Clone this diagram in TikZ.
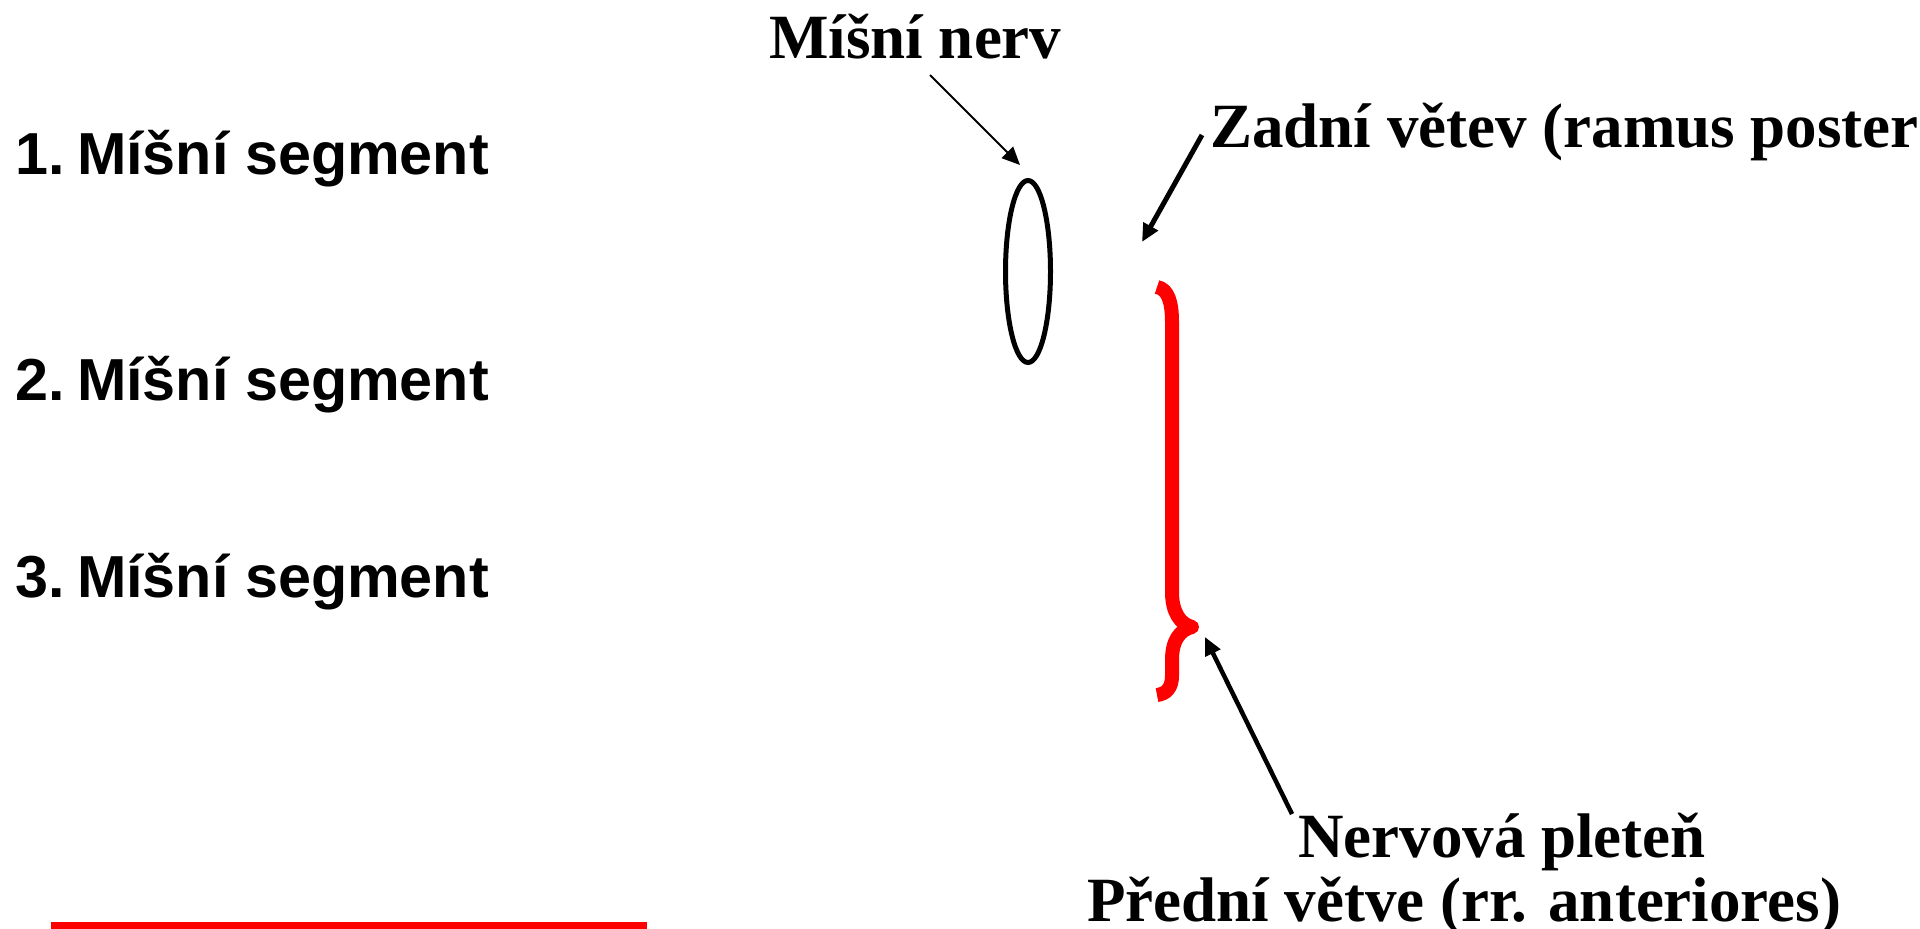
\documentclass[tikz,border=0pt]{standalone}
\usepackage{fontspec}
\setmainfont{Liberation Serif}
\newfontfamily\labelsans{Liberation Sans}
\usetikzlibrary{arrows.meta,shapes.geometric}
\begin{document}
\begin{tikzpicture}[x=1pt,y=-1pt,
  seriflbl/.style={anchor=base west,inner sep=0pt,font=\fontsize{63}{70}\selectfont\bfseries},
  seglbl/.style={anchor=base west,inner sep=0pt,font=\labelsans\fontsize{59.3}{64}\selectfont\bfseries},
  pointer/.style={line width=#1,-{Triangle[length=18pt,width=16pt]}},
  pointer/.default=2pt,
  nerve/.style={draw,ellipse,line width=5pt,inner sep=0pt,minimum width=45pt,minimum height=182pt},
  plexus/.style={draw=red,line width=14pt,line join=round,line cap=butt}]
\useasboundingbox (0,0) rectangle (1920,929);
\clip (0,0) rectangle (1920,929);

% segment labels on the left
\node[seglbl] (seg1) at (15,174) {1.\hspace{0.21em}Míšní segment};
\node[seglbl] (seg2) at (15,400) {2.\hspace{0.21em}Míšní segment};
\node[seglbl] (seg3) at (15,597) {3.\hspace{0.21em}Míšní segment};

% spinal nerve
\node[nerve] (nerv) at (1028,271.5) {};
\node[seriflbl] (lblNerv) at (769,58) {Míšní nerv};
\coordinate (nervTail) at (930,75);
\coordinate (nervTip) at (1020,165);
\draw[pointer=2pt] (nervTail) -- (nervTip);

% posterior ramus
\node[seriflbl] (lblZadni) at (1210,147) {Zadní větev (ramus poster};
\coordinate (zadniTail) at (1202,135);
\coordinate (zadniTip) at (1142,242);
\draw[pointer=5pt] (zadniTail) -- (zadniTip);

% plexus brace
\draw[plexus] (1157,287) .. controls (1168,289) and (1172,302) .. (1172,322)
  -- (1172,592) .. controls (1172,612) and (1180,624) .. (1192,627)
  .. controls (1180,630) and (1172,640) .. (1172,660)
  -- (1172,676) .. controls (1172,688) and (1166,694) .. (1157,695);
\coordinate (braceTip) at (1205,637);

% plexus / anterior rami labels
\node[seriflbl] (lblPlet) at (1298,857) {Nervová pleteň};
\node[seriflbl] (lblPredni) at (1087,921) {Přední větve (rr. anteriores)};
\coordinate (pletTail) at (1292,814);
\draw[pointer=4.5pt] (pletTail) -- (braceTip);

% red rule at the bottom
\fill[red] (51,922) rectangle (647,929);
\end{tikzpicture}
\end{document}
